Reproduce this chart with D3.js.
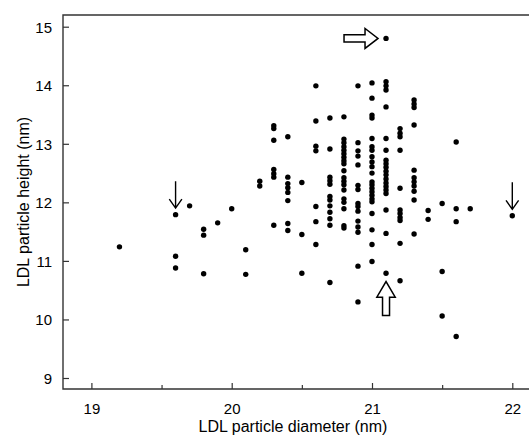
<!DOCTYPE html>
<html>
<head>
<meta charset="utf-8">
<script src="https://cdn.jsdelivr.net/npm/d3@7/dist/d3.min.js"></script>
<style>
  body { margin: 0; background: #fff; }
  svg text { font-family: Arial, "Liberation Sans", sans-serif; fill: #000; }
  .tick text { font-size: 15px; }
  .t-axis { font-size: 16px; }
</style>
</head>
<body>
<svg id="chart" width="529" height="436"></svg>
<script>
// LDL particle diameter (nm) for each column of points
var diameters = [19.2, 19.6, 19.7, 19.8, 19.9, 20.0, 20.1, 20.2, 20.3, 20.4, 20.5, 20.6,
                 20.7, 20.8, 20.9, 21.0, 21.1, 21.2, 21.3, 21.4, 21.5, 21.6, 21.7, 22.0];

// LDL particle height (nm), one list per diameter
var heights = [
  [11.24],
  [11.79, 11.08, 10.88],
  [11.94],
  [11.54, 11.44, 10.78],
  [11.65],
  [11.89],
  [11.19, 10.77],
  [12.36, 12.28],
  [13.31, 13.26, 13.06, 12.56, 12.49, 12.43, 11.61],
  [13.12, 12.43, 12.32, 12.25, 12.17, 12.03, 11.64, 11.52],
  [12.34, 11.45, 10.79],
  [13.99, 13.39, 12.96, 12.88, 11.93, 11.67, 11.28],
  [13.44, 12.91, 12.43, 12.37, 12.31, 12.10, 12.04, 11.94, 11.83, 11.72, 11.61, 10.63],
  [13.46, 13.08, 13.02, 12.95, 12.89, 12.83, 12.77, 12.71, 12.66, 12.54, 12.42, 12.36,
   12.30, 12.21, 12.06, 12.00, 11.89, 11.60, 11.56],
  [13.99, 13.02, 12.88, 12.79, 12.64, 12.29, 12.22, 11.98, 11.93, 11.85, 11.68, 11.58,
   11.49, 10.91, 10.30],
  [14.04, 13.78, 13.49, 13.44, 13.09, 12.95, 12.89, 12.78, 12.69, 12.61, 12.50, 12.35,
   12.30, 12.24, 12.18, 12.12, 12.06, 12.01, 11.81, 11.53, 11.28, 10.99],
  [14.80, 14.06, 13.99, 13.92, 13.63, 13.09, 12.89, 12.72, 12.66, 12.60, 12.53, 12.47,
   12.40, 12.33, 12.27, 12.21, 12.15, 11.87, 11.47, 10.79],
  [13.26, 13.18, 13.12, 12.89, 12.24, 11.87, 11.81, 11.74, 11.69, 11.30, 10.66],
  [13.75, 13.68, 13.62, 13.32, 12.55, 12.42, 12.35, 12.28, 12.19, 12.04, 11.46],
  [11.86, 11.71],
  [11.98, 10.82, 10.06],
  [13.03, 11.89, 11.67, 9.71],
  [11.89],
  [11.77]
];

var xTicks = [19, 20, 21, 22];
var xMinorTicks = [19.5, 20.5, 21.5];
var yTicks = [9, 10, 11, 12, 13, 14, 15];

// marked points: thin arrows from above, hollow arrows
var thinArrowPts = [[19.6, 11.79], [22.0, 11.77]];
var rightArrowPt = [21.1, 14.80];
var upArrowPt = [21.1, 10.79];

var points = [];
diameters.forEach(function (d, i) {
  heights[i].forEach(function (h) { points.push({ d: d, h: h }); });
});

var svg = d3.select("#chart");
var plotL = 63, plotR = 529, plotT = 15, plotB = 389;

var x = d3.scaleLinear().domain([19, 22]).range([91.4, 512.3]);
var y = d3.scaleLinear().domain([9, 15]).range([378, 26.7]);

var axisColor = "#333";
var fmt = d3.format("d");

// x axis (ticks point inward)
var gx = svg.append("g").attr("transform", "translate(0," + plotB + ")");
gx.call(d3.axisBottom(x).tickValues(xTicks).tickFormat(fmt).tickSizeInner(-6).tickSizeOuter(0).tickPadding(0));
gx.select(".domain").remove();
gx.selectAll(".tick line").attr("stroke", axisColor).attr("stroke-width", 1.2);
gx.selectAll(".tick text").attr("y", 24.5).attr("dy", null);
var gxm = svg.append("g").attr("transform", "translate(0," + plotB + ")");
gxm.call(d3.axisBottom(x).tickValues(xMinorTicks).tickSizeInner(-4).tickSizeOuter(0).tickFormat(""));
gxm.select(".domain").remove();
gxm.selectAll(".tick line").attr("stroke", axisColor).attr("stroke-width", 1.2);

// y axis
var gy = svg.append("g").attr("transform", "translate(" + plotL + ",0)");
gy.call(d3.axisLeft(y).tickValues(yTicks).tickFormat(fmt).tickSizeInner(-6).tickSizeOuter(0).tickPadding(0));
gy.select(".domain").remove();
gy.selectAll(".tick line").attr("stroke", axisColor).attr("stroke-width", 1.2);
gy.selectAll(".tick text").attr("x", -11).attr("dy", "0.36em");

// frame: left, top, bottom
svg.append("path")
  .attr("d", "M" + plotR + "," + plotT + "H" + plotL + "V" + plotB + "H" + plotR)
  .attr("fill", "none")
  .attr("stroke", axisColor)
  .attr("stroke-width", 1.4);

// points
svg.append("g").selectAll("circle")
  .data(points)
  .enter().append("circle")
  .attr("cx", function (p) { return x(p.d); })
  .attr("cy", function (p) { return y(p.h); })
  .attr("r", 2.7)
  .attr("fill", "#000");

// thin down arrows
thinArrowPts.forEach(function (p) {
  var cx = x(p[0]), tip = y(p[1]) - 6.5;
  svg.append("path")
    .attr("d", "M" + cx + "," + (tip - 27) + "V" + tip +
      "M" + (cx - 6.3) + "," + (tip - 9) + "L" + cx + "," + tip + "L" + (cx + 6.3) + "," + (tip - 9))
    .attr("fill", "none")
    .attr("stroke", "#000")
    .attr("stroke-width", 1.4);
});

// hollow right arrow
(function () {
  var tx = x(rightArrowPt[0]) - 8, cy = y(rightArrowPt[1]);
  svg.append("path")
    .attr("d", "M" + (tx - 34) + "," + (cy - 3.7) + "H" + (tx - 13) + "V" + (cy - 10) +
      "L" + tx + "," + cy + "L" + (tx - 13) + "," + (cy + 10) + "V" + (cy + 3.7) +
      "H" + (tx - 34) + "Z")
    .attr("fill", "#fff")
    .attr("stroke", "#000")
    .attr("stroke-width", 1.5);
})();

// hollow up arrow
(function () {
  var cx = x(upArrowPt[0]), ty = y(upArrowPt[1]) + 8.4;
  svg.append("path")
    .attr("d", "M" + (cx - 3.5) + "," + (ty + 34) + "V" + (ty + 15.6) + "H" + (cx - 9.2) +
      "L" + cx + "," + ty + "L" + (cx + 9.2) + "," + (ty + 15.6) + "H" + (cx + 3.5) +
      "V" + (ty + 34) + "Z")
    .attr("fill", "#fff")
    .attr("stroke", "#000")
    .attr("stroke-width", 1.5);
})();

// axis titles
svg.append("text")
  .attr("class", "t-axis")
  .attr("x", 293)
  .attr("y", 432)
  .attr("text-anchor", "middle")
  .text("LDL particle diameter (nm)");

svg.append("text")
  .attr("class", "t-axis")
  .attr("transform", "translate(29,202) rotate(-90)")
  .attr("text-anchor", "middle")
  .text("LDL particle height (nm)");
</script>
</body>
</html>
